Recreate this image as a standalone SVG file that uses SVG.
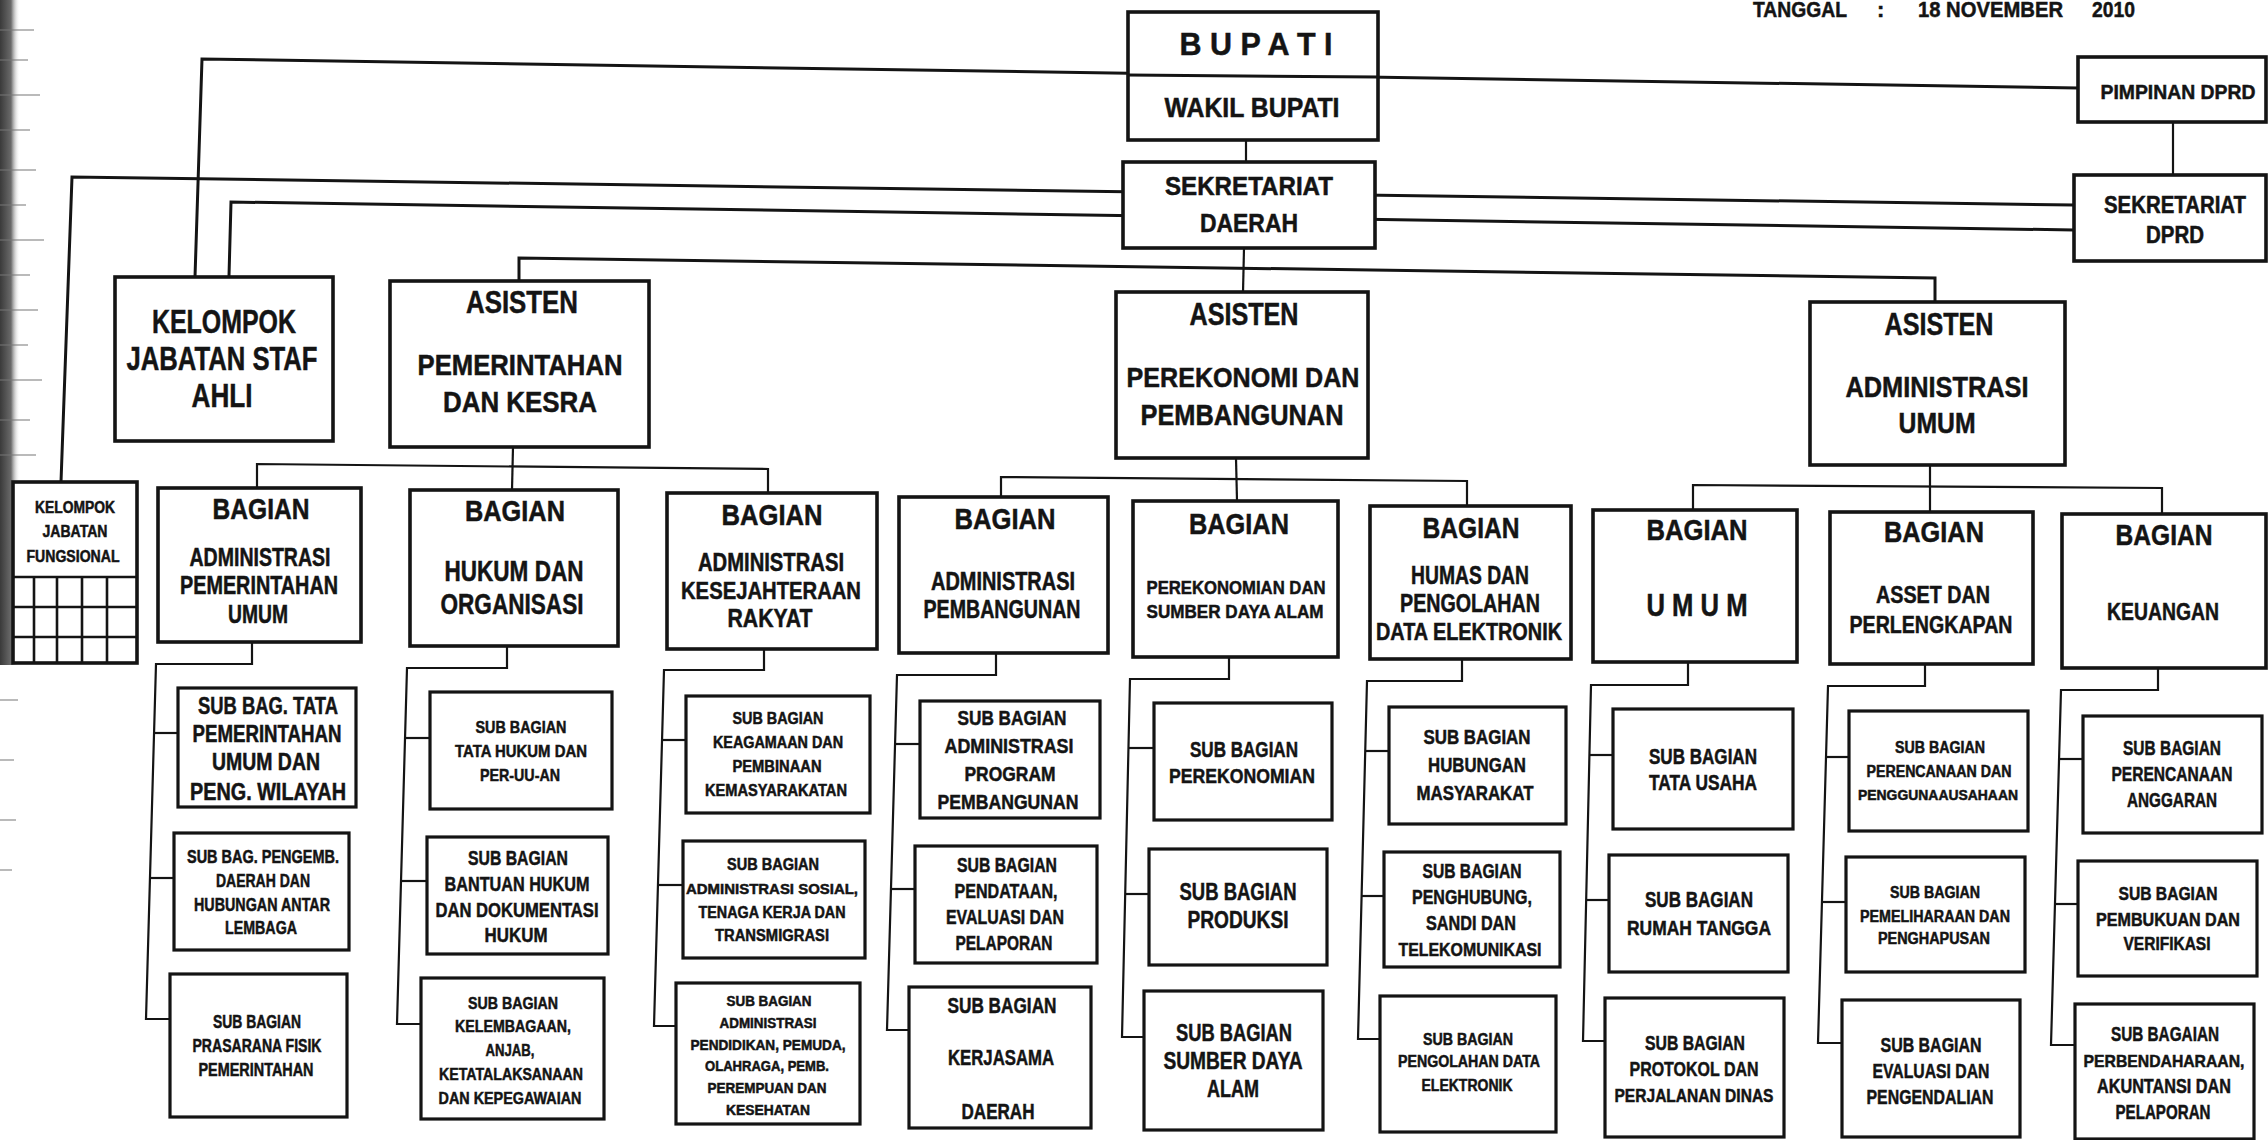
<svg xmlns="http://www.w3.org/2000/svg" width="2268" height="1140" viewBox="0 0 2268 1140">
<style>
.bg{fill:#ffffff}
.box{fill:#ffffff;stroke:#141414;stroke-width:3.6}
.sub{fill:#ffffff;stroke:#141414;stroke-width:3.2}
.ln{fill:none;stroke:#141414;stroke-width:2.2;stroke-linejoin:miter}
.lnb{fill:none;stroke:#141414;stroke-width:3}
.grid{fill:none;stroke:#141414;stroke-width:2.6}
text{font-family:"Liberation Sans Narrow","Liberation Sans",Arial,sans-serif;font-weight:bold;fill:#141414;stroke:#141414;stroke-width:0.5;text-anchor:middle}
.st{text-anchor:start}
</style>
<defs>
<linearGradient id="scan" x1="0" y1="0" x2="1" y2="0">
<stop offset="0" stop-color="#3a3a3a"/>
<stop offset="0.55" stop-color="#6a6a6a"/>
<stop offset="1" stop-color="#ffffff" stop-opacity="0"/>
</linearGradient>
</defs>
<rect class="bg" x="0" y="0" width="2268" height="1140"/>
<g id="scan-edge">
<rect x="0" y="0" width="20" height="665" fill="url(#scan)"/>
<path d="M0 30H34M0 60H28M0 95H40M0 130H30M0 170H36M0 205H26M0 240H44M0 275H30M0 310H38M0 345H28M0 380H42M0 420H30M0 455H36M0 700H18M0 760H14M0 820H16M0 870H12" stroke="#777" stroke-width="1.2"/>
</g>
<g id="header">
<text class="st" x="1753" y="17" font-size="22" textLength="94" lengthAdjust="spacingAndGlyphs">TANGGAL</text>
<text class="st" x="1877" y="17" font-size="22">:</text>
<text class="st" x="1918" y="17" font-size="22" textLength="145" lengthAdjust="spacingAndGlyphs">18 NOVEMBER</text>
<text class="st" x="2092" y="17" font-size="22" textLength="43" lengthAdjust="spacingAndGlyphs">2010</text>
</g>
<g id="connectors">
<polyline class="lnb" points="195,277 202,59 2078,88"/>
<polyline class="lnb" points="61,482 72,177 2074,205"/>
<polyline class="lnb" points="229,276 231,202 2074,230"/>
<line class="ln" x1="1246" y1="140" x2="1246" y2="163"/>
<line class="ln" x1="2173" y1="122" x2="2173" y2="175"/>
<line class="ln" x1="1244" y1="248" x2="1243" y2="293"/>
<polyline class="lnb" points="519,281 519,258 1935,278 1935,302"/>
<polyline class="ln" points="257,488 257,464 768,469 768,494"/>
<line class="ln" x1="513" y1="447" x2="512" y2="490"/>
<polyline class="ln" points="1001,497 1001,477 1467,481 1467,506"/>
<line class="ln" x1="1236" y1="458" x2="1237" y2="501"/>
<polyline class="ln" points="1693,510 1693,485 2162,488 2162,514"/>
<line class="ln" x1="1930" y1="465" x2="1930" y2="512"/>
<polyline class="ln" points="252,642 252,664 156,664 146,1019 171,1019"/>
<polyline class="ln" points="153,733 179,733"/>
<polyline class="ln" points="150,878 175,878"/>
<polyline class="ln" points="507,646 507,668 407,668 397,1024 421,1024"/>
<polyline class="ln" points="404,738 430,738"/>
<polyline class="ln" points="401,881 427,881"/>
<polyline class="ln" points="764,649 764,670 664,670 654,1026 677,1026"/>
<polyline class="ln" points="661,740 686,740"/>
<polyline class="ln" points="658,885 683,885"/>
<polyline class="ln" points="996,653 996,675 897,675 887,1030 910,1030"/>
<polyline class="ln" points="895,744 920,744"/>
<polyline class="ln" points="891,889 915,889"/>
<polyline class="ln" points="1229,657 1229,679 1130,679 1122,1037 1145,1037"/>
<polyline class="ln" points="1128,748 1154,748"/>
<polyline class="ln" points="1125,894 1149,894"/>
<polyline class="ln" points="1462,659 1462,681 1367,681 1358,1039 1381,1039"/>
<polyline class="ln" points="1365,751 1389,751"/>
<polyline class="ln" points="1362,896 1384,896"/>
<polyline class="ln" points="1688,662 1688,685 1591,685 1583,1041 1605,1041"/>
<polyline class="ln" points="1589,755 1613,755"/>
<polyline class="ln" points="1586,900 1609,900"/>
<polyline class="ln" points="1925,664 1925,686 1828,686 1818,1043 1842,1043"/>
<polyline class="ln" points="1826,757 1849,757"/>
<polyline class="ln" points="1822,902 1846,902"/>
<polyline class="ln" points="2158,668 2158,690 2061,690 2051,1045 2075,1045"/>
<polyline class="ln" points="2059,759 2083,759"/>
<polyline class="ln" points="2055,904 2078,904"/>
</g>
<g id="bupati">
<rect class="box" x="1128" y="12" width="250" height="128"/>
<line class="lnb" x1="1128" y1="75" x2="1378" y2="77"/>
<text x="1256" y="55" font-size="32" textLength="153" lengthAdjust="spacingAndGlyphs">B U P A T I</text>
<text x="1252" y="117" font-size="27" textLength="175" lengthAdjust="spacingAndGlyphs">WAKIL BUPATI</text>
</g>
<g id="sekretariat-daerah">
<rect class="box" x="1123" y="162" width="252" height="86"/>
<text x="1249" y="195" font-size="25" textLength="168" lengthAdjust="spacingAndGlyphs">SEKRETARIAT</text>
<text x="1249" y="232" font-size="25" textLength="98" lengthAdjust="spacingAndGlyphs">DAERAH</text>
</g>
<g id="pimpinan-dprd">
<rect class="box" x="2078" y="57" width="188" height="65"/>
<text x="2178" y="99" font-size="21" textLength="155" lengthAdjust="spacingAndGlyphs">PIMPINAN DPRD</text>
</g>
<g id="sekretariat-dprd">
<rect class="box" x="2074" y="175" width="192" height="86"/>
<text x="2175" y="213" font-size="23" textLength="142" lengthAdjust="spacingAndGlyphs">SEKRETARIAT</text>
<text x="2175" y="243" font-size="23" textLength="58" lengthAdjust="spacingAndGlyphs">DPRD</text>
</g>
<g id="staf-ahli">
<rect class="box" x="115" y="277" width="218" height="164"/>
<text x="224" y="333" font-size="34" textLength="144" lengthAdjust="spacingAndGlyphs">KELOMPOK</text>
<text x="222" y="370" font-size="34" textLength="191" lengthAdjust="spacingAndGlyphs">JABATAN STAF</text>
<text x="222" y="407" font-size="34" textLength="61" lengthAdjust="spacingAndGlyphs">AHLI</text>
</g>
<g id="asisten-pemerintahan">
<rect class="box" x="390" y="281" width="259" height="166"/>
<text x="522" y="313" font-size="32" textLength="112" lengthAdjust="spacingAndGlyphs">ASISTEN</text>
<text x="520" y="375" font-size="29" textLength="205" lengthAdjust="spacingAndGlyphs">PEMERINTAHAN</text>
<text x="520" y="412" font-size="29" textLength="154" lengthAdjust="spacingAndGlyphs">DAN KESRA</text>
</g>
<g id="asisten-perekonomi">
<rect class="box" x="1116" y="292" width="252" height="166"/>
<text x="1244" y="325" font-size="31" textLength="109" lengthAdjust="spacingAndGlyphs">ASISTEN</text>
<text x="1243" y="387" font-size="28" textLength="233" lengthAdjust="spacingAndGlyphs">PEREKONOMI DAN</text>
<text x="1242" y="425" font-size="29" textLength="203" lengthAdjust="spacingAndGlyphs">PEMBANGUNAN</text>
</g>
<g id="asisten-administrasi">
<rect class="box" x="1810" y="302" width="255" height="163"/>
<text x="1939" y="335" font-size="31" textLength="109" lengthAdjust="spacingAndGlyphs">ASISTEN</text>
<text x="1937" y="397" font-size="29" textLength="183" lengthAdjust="spacingAndGlyphs">ADMINISTRASI</text>
<text x="1937" y="433" font-size="29" textLength="77" lengthAdjust="spacingAndGlyphs">UMUM</text>
</g>
<g id="jabatan-fungsional">
<rect class="box" x="13" y="482" width="124" height="181"/>
<path class="grid" d="M13 577H137M13 607H137M13 637H137M34 577V663M57 577V663M82 577V663M107 577V663"/>
<text x="75" y="513" font-size="16" textLength="80" lengthAdjust="spacingAndGlyphs">KELOMPOK</text>
<text x="75" y="537" font-size="16" textLength="65" lengthAdjust="spacingAndGlyphs">JABATAN</text>
<text x="73" y="562" font-size="16" textLength="93" lengthAdjust="spacingAndGlyphs">FUNGSIONAL</text>
</g>
<g id="bagian-adm-pemerintahan">
<rect class="box" x="158" y="488" width="203" height="154"/>
<text x="261" y="519" font-size="30" textLength="97" lengthAdjust="spacingAndGlyphs">BAGIAN</text>
<text x="260" y="566" font-size="25" textLength="141" lengthAdjust="spacingAndGlyphs">ADMINISTRASI</text>
<text x="259" y="594" font-size="25" textLength="158" lengthAdjust="spacingAndGlyphs">PEMERINTAHAN</text>
<text x="258" y="623" font-size="25" textLength="60" lengthAdjust="spacingAndGlyphs">UMUM</text>
</g>
<g id="sub-tata-pemerintahan">
<rect class="sub" x="178" y="688" width="178" height="119"/>
<text x="268" y="714" font-size="23" textLength="140" lengthAdjust="spacingAndGlyphs">SUB BAG. TATA</text>
<text x="267" y="742" font-size="23" textLength="149" lengthAdjust="spacingAndGlyphs">PEMERINTAHAN</text>
<text x="266" y="770" font-size="23" textLength="108" lengthAdjust="spacingAndGlyphs">UMUM DAN</text>
<text x="268" y="800" font-size="23" textLength="156" lengthAdjust="spacingAndGlyphs">PENG. WILAYAH</text>
</g>
<g id="sub-pengemb-daerah">
<rect class="sub" x="174" y="833" width="175" height="117"/>
<text x="263" y="863" font-size="18" textLength="152" lengthAdjust="spacingAndGlyphs">SUB BAG. PENGEMB.</text>
<text x="263" y="887" font-size="18" textLength="94" lengthAdjust="spacingAndGlyphs">DAERAH DAN</text>
<text x="262" y="911" font-size="18" textLength="136" lengthAdjust="spacingAndGlyphs">HUBUNGAN ANTAR</text>
<text x="261" y="934" font-size="18" textLength="72" lengthAdjust="spacingAndGlyphs">LEMBAGA</text>
</g>
<g id="sub-prasarana-fisik">
<rect class="sub" x="170" y="974" width="177" height="143"/>
<text x="257" y="1028" font-size="18" textLength="88" lengthAdjust="spacingAndGlyphs">SUB BAGIAN</text>
<text x="257" y="1052" font-size="18" textLength="129" lengthAdjust="spacingAndGlyphs">PRASARANA FISIK</text>
<text x="256" y="1076" font-size="18" textLength="115" lengthAdjust="spacingAndGlyphs">PEMERINTAHAN</text>
</g>
<g id="bagian-hukum">
<rect class="box" x="410" y="490" width="208" height="156"/>
<text x="515" y="521" font-size="30" textLength="100" lengthAdjust="spacingAndGlyphs">BAGIAN</text>
<text x="514" y="581" font-size="29" textLength="139" lengthAdjust="spacingAndGlyphs">HUKUM DAN</text>
<text x="512" y="614" font-size="29" textLength="143" lengthAdjust="spacingAndGlyphs">ORGANISASI</text>
</g>
<g id="sub-tata-hukum">
<rect class="sub" x="430" y="692" width="182" height="117"/>
<text x="521" y="733" font-size="17" textLength="91" lengthAdjust="spacingAndGlyphs">SUB BAGIAN</text>
<text x="521" y="757" font-size="17" textLength="132" lengthAdjust="spacingAndGlyphs">TATA HUKUM DAN</text>
<text x="520" y="781" font-size="17" textLength="80" lengthAdjust="spacingAndGlyphs">PER-UU-AN</text>
</g>
<g id="sub-bantuan-hukum">
<rect class="sub" x="427" y="837" width="181" height="117"/>
<text x="518" y="865" font-size="21" textLength="100" lengthAdjust="spacingAndGlyphs">SUB BAGIAN</text>
<text x="517" y="891" font-size="21" textLength="145" lengthAdjust="spacingAndGlyphs">BANTUAN HUKUM</text>
<text x="517" y="917" font-size="21" textLength="163" lengthAdjust="spacingAndGlyphs">DAN DOKUMENTASI</text>
<text x="516" y="942" font-size="21" textLength="63" lengthAdjust="spacingAndGlyphs">HUKUM</text>
</g>
<g id="sub-kelembagaan">
<rect class="sub" x="421" y="978" width="183" height="141"/>
<text x="513" y="1009" font-size="17" textLength="90" lengthAdjust="spacingAndGlyphs">SUB BAGIAN</text>
<text x="513" y="1032" font-size="17" textLength="116" lengthAdjust="spacingAndGlyphs">KELEMBAGAAN,</text>
<text x="510" y="1056" font-size="17" textLength="49" lengthAdjust="spacingAndGlyphs">ANJAB,</text>
<text x="511" y="1080" font-size="17" textLength="144" lengthAdjust="spacingAndGlyphs">KETATALAKSANAAN</text>
<text x="510" y="1104" font-size="17" textLength="143" lengthAdjust="spacingAndGlyphs">DAN KEPEGAWAIAN</text>
</g>
<g id="bagian-kesra">
<rect class="box" x="667" y="493" width="210" height="156"/>
<text x="772" y="525" font-size="30" textLength="101" lengthAdjust="spacingAndGlyphs">BAGIAN</text>
<text x="771" y="571" font-size="25" textLength="146" lengthAdjust="spacingAndGlyphs">ADMINISTRASI</text>
<text x="771" y="599" font-size="24" textLength="180" lengthAdjust="spacingAndGlyphs">KESEJAHTERAAN</text>
<text x="770" y="627" font-size="25" textLength="85" lengthAdjust="spacingAndGlyphs">RAKYAT</text>
</g>
<g id="sub-keagamaan">
<rect class="sub" x="686" y="696" width="184" height="117"/>
<text x="778" y="724" font-size="16" textLength="91" lengthAdjust="spacingAndGlyphs">SUB BAGIAN</text>
<text x="778" y="748" font-size="16" textLength="130" lengthAdjust="spacingAndGlyphs">KEAGAMAAN DAN</text>
<text x="777" y="772" font-size="16" textLength="89" lengthAdjust="spacingAndGlyphs">PEMBINAAN</text>
<text x="776" y="796" font-size="16" textLength="142" lengthAdjust="spacingAndGlyphs">KEMASYARAKATAN</text>
</g>
<g id="sub-adm-sosial">
<rect class="sub" x="683" y="841" width="182" height="117"/>
<text x="773" y="870" font-size="16" textLength="92" lengthAdjust="spacingAndGlyphs">SUB BAGIAN</text>
<text x="772" y="894" font-size="15" textLength="172" lengthAdjust="spacingAndGlyphs">ADMINISTRASI SOSIAL,</text>
<text x="772" y="918" font-size="16" textLength="147" lengthAdjust="spacingAndGlyphs">TENAGA KERJA DAN</text>
<text x="772" y="941" font-size="16" textLength="114" lengthAdjust="spacingAndGlyphs">TRANSMIGRASI</text>
</g>
<g id="sub-adm-pendidikan">
<rect class="sub" x="676" y="983" width="184" height="141"/>
<text x="769" y="1006" font-size="14" textLength="85" lengthAdjust="spacingAndGlyphs">SUB BAGIAN</text>
<text x="768" y="1028" font-size="14" textLength="97" lengthAdjust="spacingAndGlyphs">ADMINISTRASI</text>
<text x="768" y="1050" font-size="14" textLength="155" lengthAdjust="spacingAndGlyphs">PENDIDIKAN, PEMUDA,</text>
<text x="767" y="1071" font-size="14" textLength="124" lengthAdjust="spacingAndGlyphs">OLAHRAGA, PEMB.</text>
<text x="767" y="1093" font-size="14" textLength="119" lengthAdjust="spacingAndGlyphs">PEREMPUAN DAN</text>
<text x="768" y="1115" font-size="14" textLength="84" lengthAdjust="spacingAndGlyphs">KESEHATAN</text>
</g>
<g id="bagian-adm-pembangunan">
<rect class="box" x="899" y="497" width="209" height="156"/>
<text x="1005" y="529" font-size="30" textLength="101" lengthAdjust="spacingAndGlyphs">BAGIAN</text>
<text x="1003" y="590" font-size="25" textLength="144" lengthAdjust="spacingAndGlyphs">ADMINISTRASI</text>
<text x="1002" y="618" font-size="25" textLength="157" lengthAdjust="spacingAndGlyphs">PEMBANGUNAN</text>
</g>
<g id="sub-adm-program">
<rect class="sub" x="920" y="701" width="180" height="117"/>
<text x="1012" y="725" font-size="21" textLength="109" lengthAdjust="spacingAndGlyphs">SUB BAGIAN</text>
<text x="1009" y="753" font-size="21" textLength="129" lengthAdjust="spacingAndGlyphs">ADMINISTRASI</text>
<text x="1010" y="781" font-size="21" textLength="91" lengthAdjust="spacingAndGlyphs">PROGRAM</text>
<text x="1008" y="809" font-size="21" textLength="141" lengthAdjust="spacingAndGlyphs">PEMBANGUNAN</text>
</g>
<g id="sub-pendataan">
<rect class="sub" x="915" y="846" width="182" height="117"/>
<text x="1007" y="872" font-size="20" textLength="100" lengthAdjust="spacingAndGlyphs">SUB BAGIAN</text>
<text x="1006" y="898" font-size="20" textLength="103" lengthAdjust="spacingAndGlyphs">PENDATAAN,</text>
<text x="1005" y="924" font-size="20" textLength="118" lengthAdjust="spacingAndGlyphs">EVALUASI DAN</text>
<text x="1004" y="950" font-size="20" textLength="97" lengthAdjust="spacingAndGlyphs">PELAPORAN</text>
</g>
<g id="sub-kerjasama">
<rect class="sub" x="909" y="987" width="182" height="141"/>
<text x="1002" y="1013" font-size="22" textLength="109" lengthAdjust="spacingAndGlyphs">SUB BAGIAN</text>
<text x="1001" y="1065" font-size="22" textLength="106" lengthAdjust="spacingAndGlyphs">KERJASAMA</text>
<text x="998" y="1119" font-size="22" textLength="73" lengthAdjust="spacingAndGlyphs">DAERAH</text>
</g>
<g id="bagian-perekonomian">
<rect class="box" x="1133" y="501" width="205" height="156"/>
<text x="1239" y="534" font-size="30" textLength="100" lengthAdjust="spacingAndGlyphs">BAGIAN</text>
<text x="1236" y="594" font-size="19" textLength="179" lengthAdjust="spacingAndGlyphs">PEREKONOMIAN DAN</text>
<text x="1235" y="618" font-size="19" textLength="177" lengthAdjust="spacingAndGlyphs">SUMBER DAYA ALAM</text>
</g>
<g id="sub-perekonomian">
<rect class="sub" x="1154" y="703" width="178" height="117"/>
<text x="1244" y="757" font-size="22" textLength="108" lengthAdjust="spacingAndGlyphs">SUB BAGIAN</text>
<text x="1242" y="783" font-size="21" textLength="146" lengthAdjust="spacingAndGlyphs">PEREKONOMIAN</text>
</g>
<g id="sub-produksi">
<rect class="sub" x="1149" y="849" width="178" height="116"/>
<text x="1238" y="900" font-size="24" textLength="117" lengthAdjust="spacingAndGlyphs">SUB BAGIAN</text>
<text x="1238" y="928" font-size="24" textLength="101" lengthAdjust="spacingAndGlyphs">PRODUKSI</text>
</g>
<g id="sub-sumber-daya-alam">
<rect class="sub" x="1144" y="991" width="179" height="139"/>
<text x="1234" y="1041" font-size="24" textLength="116" lengthAdjust="spacingAndGlyphs">SUB BAGIAN</text>
<text x="1233" y="1069" font-size="24" textLength="139" lengthAdjust="spacingAndGlyphs">SUMBER DAYA</text>
<text x="1233" y="1097" font-size="24" textLength="52" lengthAdjust="spacingAndGlyphs">ALAM</text>
</g>
<g id="bagian-humas">
<rect class="box" x="1370" y="506" width="201" height="153"/>
<text x="1471" y="538" font-size="30" textLength="97" lengthAdjust="spacingAndGlyphs">BAGIAN</text>
<text x="1470" y="584" font-size="25" textLength="118" lengthAdjust="spacingAndGlyphs">HUMAS DAN</text>
<text x="1470" y="612" font-size="25" textLength="140" lengthAdjust="spacingAndGlyphs">PENGOLAHAN</text>
<text x="1469" y="640" font-size="24" textLength="186" lengthAdjust="spacingAndGlyphs">DATA ELEKTRONIK</text>
</g>
<g id="sub-hubungan-masyarakat">
<rect class="sub" x="1389" y="707" width="177" height="117"/>
<text x="1477" y="744" font-size="20" textLength="107" lengthAdjust="spacingAndGlyphs">SUB BAGIAN</text>
<text x="1477" y="772" font-size="20" textLength="98" lengthAdjust="spacingAndGlyphs">HUBUNGAN</text>
<text x="1475" y="800" font-size="20" textLength="117" lengthAdjust="spacingAndGlyphs">MASYARAKAT</text>
</g>
<g id="sub-penghubung">
<rect class="sub" x="1384" y="852" width="176" height="115"/>
<text x="1472" y="878" font-size="20" textLength="99" lengthAdjust="spacingAndGlyphs">SUB BAGIAN</text>
<text x="1472" y="904" font-size="20" textLength="120" lengthAdjust="spacingAndGlyphs">PENGHUBUNG,</text>
<text x="1471" y="930" font-size="20" textLength="90" lengthAdjust="spacingAndGlyphs">SANDI DAN</text>
<text x="1470" y="956" font-size="19" textLength="143" lengthAdjust="spacingAndGlyphs">TELEKOMUNIKASI</text>
</g>
<g id="sub-pengolahan-data">
<rect class="sub" x="1380" y="996" width="176" height="136"/>
<text x="1468" y="1045" font-size="16" textLength="90" lengthAdjust="spacingAndGlyphs">SUB BAGIAN</text>
<text x="1469" y="1067" font-size="16" textLength="142" lengthAdjust="spacingAndGlyphs">PENGOLAHAN DATA</text>
<text x="1467" y="1091" font-size="16" textLength="91" lengthAdjust="spacingAndGlyphs">ELEKTRONIK</text>
</g>
<g id="bagian-umum">
<rect class="box" x="1593" y="510" width="204" height="152"/>
<text x="1697" y="540" font-size="30" textLength="101" lengthAdjust="spacingAndGlyphs">BAGIAN</text>
<text x="1697" y="616" font-size="32" textLength="101" lengthAdjust="spacingAndGlyphs">U M U M</text>
</g>
<g id="sub-tata-usaha">
<rect class="sub" x="1613" y="709" width="180" height="120"/>
<text x="1703" y="764" font-size="22" textLength="108" lengthAdjust="spacingAndGlyphs">SUB BAGIAN</text>
<text x="1703" y="790" font-size="22" textLength="108" lengthAdjust="spacingAndGlyphs">TATA USAHA</text>
</g>
<g id="sub-rumah-tangga">
<rect class="sub" x="1609" y="855" width="179" height="117"/>
<text x="1699" y="907" font-size="22" textLength="108" lengthAdjust="spacingAndGlyphs">SUB BAGIAN</text>
<text x="1699" y="935" font-size="21" textLength="144" lengthAdjust="spacingAndGlyphs">RUMAH TANGGA</text>
</g>
<g id="sub-protokol">
<rect class="sub" x="1605" y="998" width="179" height="139"/>
<text x="1695" y="1050" font-size="21" textLength="100" lengthAdjust="spacingAndGlyphs">SUB BAGIAN</text>
<text x="1694" y="1076" font-size="21" textLength="129" lengthAdjust="spacingAndGlyphs">PROTOKOL DAN</text>
<text x="1694" y="1102" font-size="19" textLength="159" lengthAdjust="spacingAndGlyphs">PERJALANAN DINAS</text>
</g>
<g id="bagian-asset">
<rect class="box" x="1830" y="512" width="203" height="152"/>
<text x="1934" y="542" font-size="30" textLength="100" lengthAdjust="spacingAndGlyphs">BAGIAN</text>
<text x="1933" y="603" font-size="24" textLength="114" lengthAdjust="spacingAndGlyphs">ASSET DAN</text>
<text x="1931" y="633" font-size="24" textLength="163" lengthAdjust="spacingAndGlyphs">PERLENGKAPAN</text>
</g>
<g id="sub-perencanaan-penggunaan">
<rect class="sub" x="1849" y="711" width="179" height="120"/>
<text x="1940" y="753" font-size="16" textLength="90" lengthAdjust="spacingAndGlyphs">SUB BAGIAN</text>
<text x="1939" y="777" font-size="16" textLength="145" lengthAdjust="spacingAndGlyphs">PERENCANAAN DAN</text>
<text x="1938" y="800" font-size="15" textLength="160" lengthAdjust="spacingAndGlyphs">PENGGUNAAUSAHAAN</text>
</g>
<g id="sub-pemeliharaan">
<rect class="sub" x="1846" y="857" width="179" height="115"/>
<text x="1935" y="898" font-size="16" textLength="90" lengthAdjust="spacingAndGlyphs">SUB BAGIAN</text>
<text x="1935" y="922" font-size="16" textLength="150" lengthAdjust="spacingAndGlyphs">PEMELIHARAAN DAN</text>
<text x="1934" y="944" font-size="16" textLength="112" lengthAdjust="spacingAndGlyphs">PENGHAPUSAN</text>
</g>
<g id="sub-evaluasi-pengendalian">
<rect class="sub" x="1842" y="1000" width="178" height="137"/>
<text x="1931" y="1052" font-size="21" textLength="101" lengthAdjust="spacingAndGlyphs">SUB BAGIAN</text>
<text x="1931" y="1078" font-size="21" textLength="117" lengthAdjust="spacingAndGlyphs">EVALUASI DAN</text>
<text x="1930" y="1104" font-size="21" textLength="127" lengthAdjust="spacingAndGlyphs">PENGENDALIAN</text>
</g>
<g id="bagian-keuangan">
<rect class="box" x="2062" y="514" width="204" height="154"/>
<text x="2164" y="545" font-size="30" textLength="97" lengthAdjust="spacingAndGlyphs">BAGIAN</text>
<text x="2163" y="620" font-size="24" textLength="112" lengthAdjust="spacingAndGlyphs">KEUANGAN</text>
</g>
<g id="sub-perencanaan-anggaran">
<rect class="sub" x="2083" y="716" width="179" height="117"/>
<text x="2172" y="755" font-size="20" textLength="98" lengthAdjust="spacingAndGlyphs">SUB BAGIAN</text>
<text x="2172" y="781" font-size="20" textLength="121" lengthAdjust="spacingAndGlyphs">PERENCANAAN</text>
<text x="2172" y="807" font-size="20" textLength="90" lengthAdjust="spacingAndGlyphs">ANGGARAN</text>
</g>
<g id="sub-pembukuan">
<rect class="sub" x="2078" y="861" width="179" height="115"/>
<text x="2168" y="900" font-size="19" textLength="99" lengthAdjust="spacingAndGlyphs">SUB BAGIAN</text>
<text x="2168" y="926" font-size="18" textLength="144" lengthAdjust="spacingAndGlyphs">PEMBUKUAN DAN</text>
<text x="2167" y="950" font-size="19" textLength="87" lengthAdjust="spacingAndGlyphs">VERIFIKASI</text>
</g>
<g id="sub-perbendaharaan">
<rect class="sub" x="2075" y="1004" width="179" height="135"/>
<text x="2165" y="1041" font-size="20" textLength="108" lengthAdjust="spacingAndGlyphs">SUB BAGAIAN</text>
<text x="2164" y="1067" font-size="17" textLength="161" lengthAdjust="spacingAndGlyphs">PERBENDAHARAAN,</text>
<text x="2164" y="1093" font-size="20" textLength="134" lengthAdjust="spacingAndGlyphs">AKUNTANSI DAN</text>
<text x="2163" y="1119" font-size="20" textLength="95" lengthAdjust="spacingAndGlyphs">PELAPORAN</text>
</g>
</svg>
